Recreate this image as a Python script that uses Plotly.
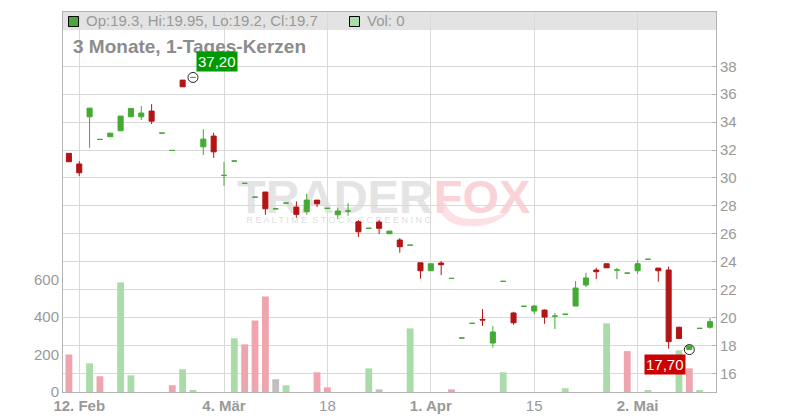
import plotly.graph_objects as go

# ---- data ----
open_ = [31.76, 31.0, 34.38, 32.76, 32.95, 33.38, 34.38, 34.38, 34.79, 33.21,
         31.97, 37.01, 37.2, 32.23, 33.0, 30.18, 31.21, 29.61, 28.62, 28.99,
         27.79, 28.2, 27.91, 27.58, 28.41, 27.82, 27.36, 27.63, 26.86, 26.39,
         26.84, 26.0, 25.55, 25.18, 23.92, 23.35, 23.9, 22.8, 18.53, 19.58,
         19.86, 18.17, 22.59, 20.32, 20.8, 20.46, 20.53, 20.1, 20.23, 20.82,
         22.33, 23.4, 23.85, 23.4, 23.18, 23.35, 24.17, 23.54, 23.4, 19.3,
         17.7, 19.22, 19.3]
high = [31.76, 31.2, 35.0, 32.76, 33.21, 34.43, 34.98, 35.15, 35.29, 33.21,
        31.97, 37.01, 37.2, 33.5, 33.24, 31.14, 31.21, 29.61, 28.62, 28.99,
        27.79, 28.2, 28.32, 28.87, 28.41, 27.82, 27.86, 28.2, 26.98, 26.39,
        26.98, 26.19, 25.69, 25.18, 23.92, 23.85, 24.04, 22.8, 18.53, 19.58,
        20.6, 19.39, 22.59, 20.41, 20.8, 20.89, 20.58, 20.32, 20.23, 22.61,
        23.2, 23.56, 23.85, 23.56, 23.18, 24.1, 24.17, 23.54, 23.64, 19.34,
        17.96, 19.22, 19.95]
low = [31.16, 30.13, 32.16, 32.76, 32.95, 33.38, 34.38, 34.15, 33.86, 33.21,
       31.97, 36.53, 37.2, 31.64, 31.44, 29.42, 31.21, 29.61, 28.62, 27.36,
       27.79, 28.2, 27.15, 27.36, 27.93, 27.82, 27.05, 27.29, 25.76, 26.39,
       25.98, 26.0, 24.64, 25.18, 22.78, 23.35, 23.04, 22.8, 18.53, 19.58,
       19.4, 17.84, 22.59, 19.48, 20.8, 20.25, 19.55, 19.17, 20.23, 20.82,
       22.18, 22.75, 23.56, 22.75, 23.18, 23.13, 24.17, 22.56, 17.77, 18.5,
       17.7, 19.22, 19.2]
close = [31.16, 30.37, 35.0, 32.76, 33.21, 34.43, 34.98, 34.65, 34.07, 33.21,
         31.97, 36.53, 37.2, 32.78, 31.87, 30.18, 31.21, 29.61, 28.62, 27.79,
         27.79, 28.2, 27.39, 28.41, 28.15, 27.82, 27.63, 27.63, 26.14, 26.39,
         26.39, 26.19, 25.07, 25.18, 23.35, 23.85, 23.78, 22.8, 18.53, 19.58,
         19.82, 18.96, 22.59, 19.62, 20.8, 20.82, 20.03, 20.1, 20.23, 22.11,
         22.83, 23.28, 23.56, 23.4, 23.18, 23.85, 24.17, 23.35, 18.27, 18.5,
         17.96, 19.22, 19.7]
volume = [200, 0, 153, 84, 0, 584, 89, 0, 0, 0,
          36, 121, 9, 0, 0, 0, 286, 254, 381, 509,
          68, 36, 0, 0, 105, 25, 0, 0, 0, 126,
          14, 0, 0, 339, 0, 0, 0, 14, 0, 0,
          0, 0, 105, 0, 0, 0, 0, 0, 20, 0,
          0, 0, 366, 0, 218, 0, 10, 0, 0, 222,
          126, 10, 0]

tick_pos = [1, 15, 25, 35, 45, 55]
tick_labels = ["<b>12. Feb</b>", "<b>4. Mär</b>", "18", "<b>1. Apr</b>", "15", "<b>2. Mai</b>"]
price_ticks = [16, 18, 20, 22, 24, 26, 28, 30, 32, 34, 36, 38]
vol_ticks = [0, 200, 400, 600]

high_idx, high_val, high_text = 12, 37.20, "37,20"
low_idx, low_val, low_text = 60, 17.70, "17,70"
legend_text = "Op:19.3, Hi:19.95, Lo:19.2, Cl:19.7"
vol_text = "Vol: 0"
title_text = "3 Monate, 1-Tages-Kerzen"

# ---- styling ----
GREEN = "#44aa33"
RED = "#b31515"
VGREEN = "#aadcaa"
VRED = "#eea5ae"
VGRAY = "#c0c0c0"
GRID = "#d9d9d9"
AXL = "#b4b4b4"
TXT = "#999999"
FONT = "Liberation Sans"

# plot area in page pixels; the page body has an 8px margin
OFF = 8
L, R, T, B = 63, 716, 12, 392
W, H = R - L, B - T
FIG_W, FIG_H = 800 - OFF, 420 - OFF


def px(xp):
    return (xp - L) / W


def py(yp):
    return (B - yp) / H


n = len(close)
idx = list(range(n))
up = [i for i in idx if close[i] >= open_[i]]
dn = [i for i in idx if close[i] < open_[i]]

vcol = []
for i in idx:
    prev = close[i - 1] if i > 0 else open_[i]
    if close[i] > prev:
        vcol.append(VGREEN)
    elif close[i] < prev:
        vcol.append(VRED)
    else:
        vcol.append(VGRAY)

fig = go.Figure()
fig.add_trace(go.Bar(x=idx, y=volume, marker=dict(color=vcol, line=dict(width=0)),
                     width=0.66, yaxis="y", hoverinfo="skip"))


def candle(sel, color):
    return go.Candlestick(
        x=sel, open=[open_[i] for i in sel], high=[high[i] for i in sel],
        low=[low[i] for i in sel], close=[close[i] for i in sel],
        increasing=dict(line=dict(color=color, width=1), fillcolor=color),
        decreasing=dict(line=dict(color=color, width=1), fillcolor=color),
        whiskerwidth=0, yaxis="y2", hoverinfo="skip")


fig.add_trace(candle(up, GREEN))
fig.add_trace(candle(dn, RED))
fig.add_trace(go.Scatter(x=[high_idx, low_idx], y=[high_val, low_val], mode="markers",
                         marker=dict(symbol="circle-open", size=10, color="#222222",
                                     line=dict(width=1)),
                         yaxis="y2", hoverinfo="skip"))


def P(x, y):
    return f"{px(x):.4f},{py(y):.4f}"


tail_path = ("M " + P(438, 203) + " Q " + P(442, 229) + " " + P(478, 226)
             + " Q " + P(500, 224) + " " + P(512, 208)
             + " Q " + P(494, 220) + " " + P(470, 219)
             + " Q " + P(450, 218) + " " + P(446, 203) + " Z")

shapes = [
    # legend band
    dict(type="rect", xref="paper", yref="paper", x0=0, x1=1, y0=py(30), y1=1,
         fillcolor="#e3e3e3", line=dict(width=0), layer="below"),
    dict(type="rect", xref="paper", yref="paper", x0=px(68.5), x1=px(78.5), y0=py(26.5), y1=py(16.5),
         fillcolor=GREEN, line=dict(width=1, color="#000000"), layer="above"),
    dict(type="rect", xref="paper", yref="paper", x0=px(349.5), x1=px(359.5), y0=py(26.5), y1=py(16.5),
         fillcolor=VGREEN, line=dict(width=1, color="#000000"), layer="above"),
    # watermark
    dict(type="path", xref="paper", yref="paper", path=tail_path,
         fillcolor="#fce0e3", line=dict(width=0), layer="below"),
    dict(type="rect", xref="paper", yref="paper", x0=px(238), x1=px(432), y0=py(210), y1=py(174),
         line=dict(width=0), layer="below",
         label=dict(text="<b>TRADER</b>", font=dict(size=47, color="#e4e4e4", family=FONT),
                    textposition="middle center")),
    dict(type="rect", xref="paper", yref="paper", x0=px(428), x1=px(536), y0=py(210), y1=py(174),
         line=dict(width=0), layer="below",
         label=dict(text="<b>FOX</b>", font=dict(size=47, color="#fad3d8", family=FONT),
                    textposition="middle center")),
    dict(type="rect", xref="paper", yref="paper", x0=px(248), x1=px(430), y0=py(226), y1=py(212),
         line=dict(width=0), layer="below",
         label=dict(text="R E A L T I M E  S T O C K  S C R E E N I N G",
                    font=dict(size=9, color="#dedede", family=FONT),
                    textposition="middle center")),
]

annotations = [
    dict(xref="paper", yref="paper", x=px(84), y=py(21), xanchor="left", yanchor="middle",
         text=legend_text, showarrow=False, font=dict(size=15, color=TXT, family=FONT)),
    dict(xref="paper", yref="paper", x=px(365), y=py(21), xanchor="left", yanchor="middle",
         text=vol_text, showarrow=False, font=dict(size=15, color=TXT, family=FONT)),
    dict(xref="paper", yref="paper", x=px(71), y=py(47), xanchor="left", yanchor="middle",
         text="<b>" + title_text + "</b>", showarrow=False,
         font=dict(size=19, color="#8c8c8c", family=FONT)),
    dict(xref="x", yref="y2", x=high_idx, y=high_val, xanchor="left", yanchor="bottom",
         xshift=3, yshift=5, text=high_text, showarrow=False, bgcolor="#009a00", borderpad=1,
         font=dict(size=15, color="white", family=FONT)),
    dict(xref="x", yref="y2", x=low_idx, y=low_val, xanchor="right", yanchor="top",
         xshift=-3, yshift=-4, text=low_text, showarrow=False, bgcolor="#cc0000", borderpad=1,
         font=dict(size=15, color="white", family=FONT)),
]

tf = dict(size=15, color=TXT, family=FONT)
fig.update_layout(
    width=FIG_W, height=FIG_H,
    margin=dict(l=L - OFF, r=800 - R, t=T - OFF, b=420 - B, pad=0, autoexpand=False),
    paper_bgcolor="white", plot_bgcolor="white", showlegend=False,
    font=dict(family=FONT),
    xaxis=dict(range=[-0.57, 62.58], tickmode="array", tickvals=tick_pos, ticktext=tick_labels,
               showgrid=True, gridcolor=GRID, gridwidth=1, zeroline=False, automargin=False,
               showline=True, linecolor=AXL, mirror=True, ticks="", tickfont=tf,
               rangeslider=dict(visible=False), fixedrange=True),
    yaxis=dict(range=[0, 2025], tickmode="array", tickvals=vol_ticks, side="left",
               showgrid=False, zeroline=False, showline=True, linecolor=AXL, ticks="",
               tickfont=tf, automargin=False),
    yaxis2=dict(overlaying="y", side="right", range=[14.66, 41.89], tickmode="array",
                tickvals=price_ticks, showgrid=True, gridcolor=GRID, zeroline=False,
                showline=True, linecolor=AXL, ticks="inside", ticklen=4, tickcolor=AXL,
                tickfont=tf, automargin=False),
    shapes=shapes, annotations=annotations,
)

fig.write_html("out.html")
